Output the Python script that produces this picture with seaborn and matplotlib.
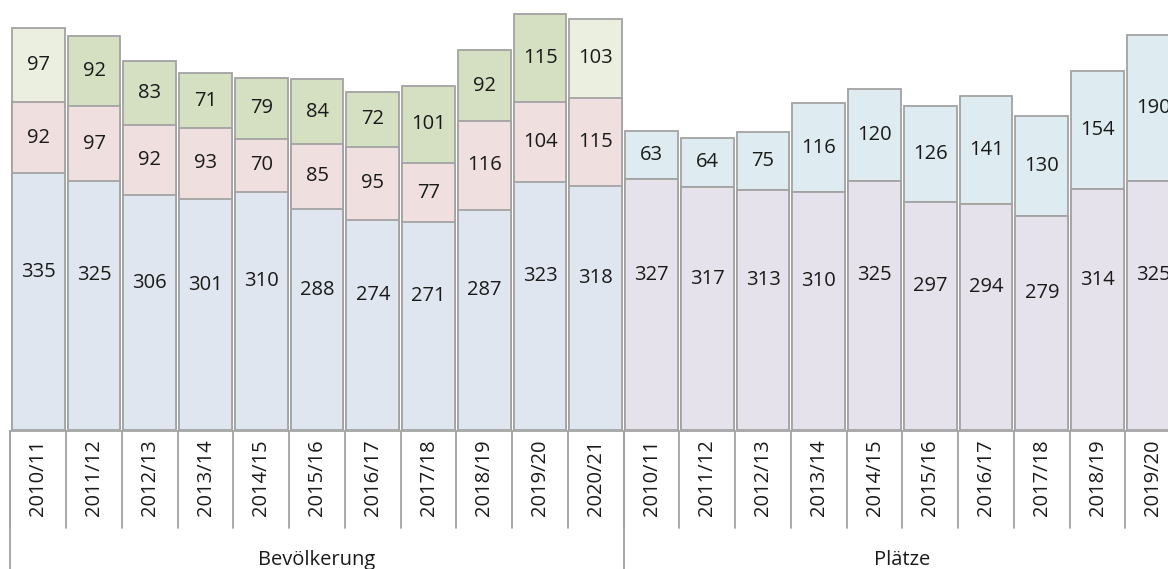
import matplotlib.pyplot as plt
import pandas as pd
import seaborn as sns

# Werte
years_bev = ['2010/11', '2011/12', '2012/13', '2013/14', '2014/15', '2015/16',
             '2016/17', '2017/18', '2018/19', '2019/20', '2020/21']
years_pl = ['2010/11', '2011/12', '2012/13', '2013/14', '2014/15', '2015/16',
            '2016/17', '2017/18', '2018/19', '2019/20']

bev_basis = [335, 325, 306, 301, 310, 288, 274, 271, 287, 323, 318]
bev_mitte = [92, 97, 92, 93, 70, 85, 95, 77, 116, 104, 115]
bev_oben = [97, 92, 83, 71, 79, 84, 72, 101, 92, 115, 103]
bev_oben_hell = ['2010/11', '2020/21']   # heller eingefaerbte Jahre

pl_basis = [327, 317, 313, 310, 325, 297, 294, 279, 314, 325]
pl_oben = [63, 64, 75, 116, 120, 126, 141, 130, 154, 190]

group_names = ['Bevölkerung', 'Plätze']

# Farben (Excel-Pastell)
c_blue = '#DCE6F2'
c_pink = '#F2DCDB'
c_green = '#D7E4BD'
c_green_hell = '#EBF1DE'
c_lav = '#E6E0EC'
c_cyan = '#DBEEF4'
edge = '#A3A3A3'
txt = '#1a1a1a'

n_bev = len(years_bev)
n_pl = len(years_pl)

df = pd.DataFrame({
    'pos': list(range(n_bev + n_pl)),
    'jahr': years_bev + years_pl,
    'gruppe': [group_names[0]] * n_bev + [group_names[1]] * n_pl,
    'basis': bev_basis + pl_basis,
    'mitte': bev_mitte + [0] * n_pl,
    'oben': bev_oben + pl_oben,
})
df['key'] = df['gruppe'] + ' ' + df['jahr']
df['summe'] = df['basis'] + df['mitte'] + df['oben']
df['unten2'] = df['basis'] + df['mitte']

col_top, col_mid, col_base = {}, {}, {}
for _, r in df.iterrows():
    if r['gruppe'] == group_names[0]:
        col_top[r['key']] = c_green_hell if r['jahr'] in bev_oben_hell else c_green
        col_mid[r['key']] = c_pink
        col_base[r['key']] = c_blue
    else:
        col_top[r['key']] = c_cyan
        col_mid[r['key']] = c_lav
        col_base[r['key']] = c_lav

sns.set_style('white')
plt.rcParams['font.family'] = ['Open Sans', 'DejaVu Sans']
fs = 14.5

fig = plt.figure(figsize=(11.68, 5.69), dpi=100)
ax = fig.add_axes([0, 139 / 569, 1, 430 / 569])

common = dict(x='pos', hue='key', native_scale=True, dodge=False, width=0.946,
              edgecolor=edge, linewidth=1.3, errorbar=None, legend=False, ax=ax)
sns.barplot(data=df, y='summe', palette=col_top, **common)
sns.barplot(data=df, y='unten2', palette=col_mid, **common)
sns.barplot(data=df, y='basis', palette=col_base, **common)

xlim = (-0.688, 20.263)
ax.set_xlim(*xlim)
ax.set_ylim(0, 560.6)
ax.set_xticks([])
ax.set_yticks([])
ax.set_xlabel('')
ax.set_ylabel('')
for s in ax.spines.values():
    s.set_visible(False)

# Beschriftungen in den Segmenten
for _, r in df.iterrows():
    ax.text(r['pos'], (r['basis'] + 78) / 2, str(r['basis']), ha='center', va='center',
            fontsize=fs, color=txt)
    if r['mitte'] > 0:
        ax.text(r['pos'], r['basis'] + r['mitte'] / 2, str(r['mitte']), ha='center',
                va='center', fontsize=fs, color=txt)
    ax.text(r['pos'], r['unten2'] + r['oben'] / 2, str(r['oben']), ha='center',
            va='center', fontsize=fs, color=txt)

# Kategorienachse mit zwei Ebenen
ax2 = fig.add_axes([0, 0, 1, 139 / 569])
ax2.set_xlim(*xlim)
ax2.set_ylim(0, 139)
ax2.axis('off')
lw = 1.3
ax2.plot([-0.5, xlim[1] + 1], [138.5, 138.5], color=edge, lw=lw, clip_on=False)
for i in range(n_bev + n_pl + 1):
    ax2.plot([i - 0.5, i - 0.5], [139, 41], color=edge, lw=lw)
for b in [-0.5, n_bev - 0.5, n_bev + n_pl - 0.5]:
    ax2.plot([b, b], [139, 0], color=edge, lw=lw)
for _, r in df.iterrows():
    ax2.text(r['pos'], 91, r['jahr'], rotation=90, ha='center', va='center',
             fontsize=fs, color=txt)
ax2.text((n_bev - 1) / 2, 9, group_names[0], ha='center', va='center', fontsize=fs, color=txt)
ax2.text(n_bev + (n_pl - 1) / 2, 9, group_names[1], ha='center', va='center', fontsize=fs,
         color=txt)

fig.savefig('out.png', dpi=100)
